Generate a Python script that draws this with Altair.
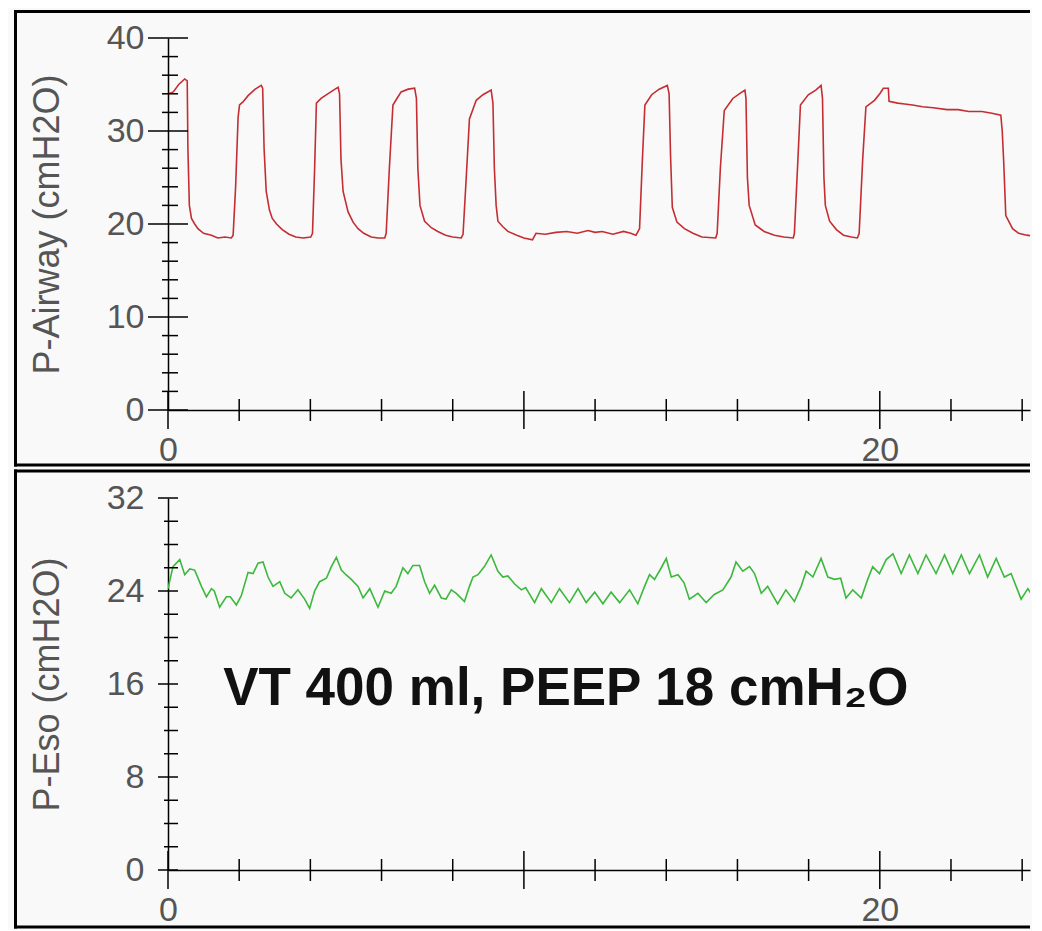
import altair as alt
import pandas as pd

# ---------------- data ----------------
t_air = [0.00, 0.15, 0.30, 0.47, 0.54, 0.56, 0.60, 0.66, 0.75, 0.84, 1.00, 1.22, 1.40, 1.60, 1.78,
         1.83, 1.90, 1.97, 2.01, 2.10, 2.25, 2.45, 2.62, 2.66, 2.70, 2.76, 2.85, 2.93, 3.05, 3.21,
         3.40, 3.59, 3.80, 4.01, 4.06, 4.12, 4.17, 4.30, 4.49, 4.65, 4.78, 4.82, 4.86, 4.92, 5.06,
         5.20, 5.34, 5.50, 5.71, 5.90, 6.09, 6.13, 6.22, 6.32, 6.45, 6.55, 6.75, 6.93, 6.98, 7.02,
         7.08, 7.21, 7.40, 7.58, 7.80, 8.00, 8.24, 8.29, 8.38, 8.47, 8.66, 8.85, 9.08, 9.13, 9.17,
         9.22, 9.27, 9.41, 9.55, 9.80, 10.00, 10.24, 10.34, 10.60, 10.90, 11.20, 11.50, 11.80, 12.00,
         12.20, 12.50, 12.80, 13.00, 13.15, 13.25, 13.33, 13.40, 13.59, 13.80, 14.03, 14.08, 14.12,
         14.17, 14.30, 14.51, 14.75, 15.00, 15.39, 15.43, 15.52, 15.63, 15.87, 16.05, 16.21, 16.24,
         16.28, 16.33, 16.50, 16.75, 17.04, 17.30, 17.57, 17.60, 17.70, 17.77, 17.99, 18.20, 18.35,
         18.39, 18.43, 18.47, 18.59, 18.78, 18.98, 19.20, 19.37, 19.42, 19.52, 19.61, 19.85, 20.00,
         20.10, 20.24, 20.26, 20.50, 20.70, 20.92, 21.20, 21.50, 21.89, 22.20, 22.50, 22.87, 23.15,
         23.40, 23.44, 23.48, 23.54, 23.73, 23.90, 24.13, 24.49]
p_air = [34.0, 34.2, 35.0, 35.6, 35.4, 28.0, 22.0, 20.6, 20.0, 19.5, 19.0, 18.8, 18.5, 18.6, 18.5,
         18.8, 24.0, 31.5, 32.8, 33.1, 33.8, 34.5, 34.9, 34.6, 28.1, 23.5, 21.5, 20.6, 20.0, 19.4,
         18.9, 18.6, 18.5, 18.6, 19.0, 26.0, 33.0, 33.5, 34.0, 34.4, 34.7, 34.0, 27.0, 23.5, 21.3,
         20.2, 19.5, 19.0, 18.6, 18.5, 18.5, 19.0, 26.0, 32.8, 33.6, 34.2, 34.5, 34.6, 33.5, 26.0,
         22.0, 20.3, 19.6, 19.2, 18.8, 18.6, 18.5, 18.9, 25.0, 31.3, 33.3, 33.9, 34.4, 33.0, 26.0,
         22.0, 20.3, 19.7, 19.2, 18.8, 18.5, 18.3, 19.0, 18.9, 19.1, 19.2, 19.0, 19.3, 19.1,
         19.2, 18.9, 19.2, 19.0, 18.8, 19.5, 27.0, 32.8, 33.9, 34.5, 34.9, 34.0, 27.4,
         21.8, 20.2, 19.5, 19.0, 18.6, 18.5, 19.0, 26.0, 32.2, 33.5, 34.0, 34.4, 33.5,
         25.0, 22.0, 19.9, 19.2, 18.8, 18.6, 18.5, 19.0, 27.0, 32.8, 33.9, 34.4, 34.9,
         33.5, 25.0, 22.0, 20.3, 19.4, 18.8, 18.6, 18.5, 19.0, 27.0, 32.6, 33.3, 34.0,
         34.6, 34.6, 33.2, 33.0, 32.9, 32.8, 32.6, 32.5, 32.3, 32.3, 32.1, 32.1, 31.9,
         31.7, 30.0, 26.8, 20.9, 19.5, 19.0, 18.8, 18.6]

t_eso = [0.00, 0.14, 0.33, 0.47, 0.61, 0.75, 0.94, 1.08, 1.22, 1.30, 1.45, 1.64, 1.75, 1.92, 2.06,
         2.25, 2.39, 2.53, 2.67, 2.81, 2.95, 3.14, 3.28, 3.46, 3.65, 3.84, 3.98, 4.12, 4.26, 4.45,
         4.59, 4.73, 4.87, 5.00, 5.15, 5.34, 5.48, 5.67, 5.90, 6.09, 6.27, 6.41, 6.60, 6.74, 6.88,
         7.07, 7.21, 7.35, 7.49, 7.68, 7.81, 7.96, 8.10, 8.33, 8.47, 8.57, 8.71, 8.89, 9.08, 9.27,
         9.41, 9.55, 9.74, 9.93, 10.05, 10.30, 10.49, 10.77, 11.00, 11.28, 11.52, 11.75, 11.99,
         12.22, 12.45, 12.69, 12.97, 13.20, 13.39, 13.53, 13.67, 13.86, 14.00, 14.14, 14.33, 14.50,
         14.65, 14.89, 15.12, 15.35, 15.59, 15.82, 15.96, 16.15, 16.34, 16.48, 16.67, 16.85, 17.13,
         17.36, 17.60, 17.79, 17.93, 18.12, 18.35, 18.54, 18.73, 18.90, 19.05, 19.24, 19.48, 19.66,
         19.80, 19.99, 20.18, 20.37, 20.60, 20.83, 21.07, 21.30, 21.58, 21.82, 22.05, 22.29, 22.52,
         22.80, 23.03, 23.27, 23.50, 23.69, 23.97, 24.16, 24.49]
p_eso = [24.2, 26.1, 26.7, 25.4, 25.9, 25.8, 24.4, 23.5, 24.2, 24.0, 22.6, 23.5, 23.5, 22.8, 23.6,
         25.6, 25.5, 26.4, 26.5, 25.2, 24.4, 24.8, 23.8, 23.4, 24.1, 23.3, 22.5, 24.0, 24.8, 25.1,
         26.1, 26.9, 25.8, 25.4, 25.0, 24.4, 23.4, 24.2, 22.6, 24.0, 23.8, 24.4, 26.0, 25.5, 26.2,
         26.2, 24.8, 23.8, 24.5, 23.4, 23.3, 24.1, 23.8, 23.1, 24.4, 25.2, 25.4, 26.1, 27.1, 25.7,
         25.2, 25.3, 24.6, 24.1, 24.3, 23.0, 24.2, 23.0, 24.2, 23.0, 24.2, 23.0, 23.9,
         22.9, 23.9, 23.0, 24.1, 22.9, 24.4, 25.4, 25.0, 26.0, 26.8, 25.2, 25.4, 24.7,
         23.3, 23.8, 23.0, 23.7, 24.1, 25.2, 26.5, 25.7, 26.1, 25.5, 23.8, 24.4, 22.9,
         24.1, 23.1, 24.4, 25.7, 25.2, 26.8, 25.2, 25.0, 25.1, 23.4, 24.1, 23.4, 25.0,
         26.1, 25.5, 26.7, 27.2, 25.5, 27.1, 25.5, 27.1, 25.5, 27.1, 25.5, 27.1, 25.5,
         27.1, 25.2, 26.8, 25.2, 25.5, 23.3, 24.2, 22.6]

x_label_values = [0, 20]
x_major_ticks = [0, 10, 20]
x_minor_ticks = [2, 4, 6, 8, 12, 14, 16, 18, 22, 24]

air_y_major = [0, 10, 20, 30, 40]
air_y_minor = [2, 4, 6, 8, 12, 14, 16, 18, 22, 24, 26, 28, 32, 34, 36, 38]
eso_y_major = [0, 8, 16, 24, 32]
eso_y_minor = [2, 4, 6, 10, 12, 14, 18, 20, 22, 26, 28, 30]

note_t = [1.55]
note_p = [14.2]
note_text = ["VT 400 ml, PEEP 18 cmH\u2082O"]

# ---------------- chart ----------------
PX_PER_S = 35.59
W = 862
H = 372
FONT = "Liberation Sans"
GREY = "#555555"
X_SCALE = alt.Scale(domain=[0, W / PX_PER_S], nice=False, zero=False)
X_AXIS = alt.Axis(values=x_label_values, ticks=False, tickSize=0, grid=False,
                  domainColor="black", domainWidth=1.5, labelFlush=False,
                  labelFont=FONT, labelFontSize=34, labelColor=GREY,
                  labelPadding=23, title=None)


def panel(t, p, color, ymax, ymaj, ymin, title, major_len, minor_len, minor_off,
          frame_top, frame_bottom, note=None):
    yscale = alt.Scale(domain=[0, ymax], nice=False, zero=False)
    yaxis = alt.Axis(values=ymaj, ticks=False, tickSize=0, grid=False,
                     domainColor="black", domainWidth=1.5, labelFlush=False,
                     labelFont=FONT, labelFontSize=34, labelColor=GREY,
                     labelPadding=24, title=title, titleFont=FONT,
                     titleFontSize=36, titleFontWeight="normal",
                     titleColor=GREY, titlePadding=40)
    df = pd.DataFrame({"t": t, "p": p})
    line = alt.Chart(df).mark_line(color=color, strokeWidth=1.6, clip=True).encode(
        x=alt.X("t:Q", scale=X_SCALE, axis=X_AXIS),
        y=alt.Y("p:Q", scale=yscale, axis=yaxis),
    )
    y_major = alt.Chart(pd.DataFrame({"t": 0, "p": ymaj})).mark_tick(
        orient="horizontal", size=major_len, thickness=1.5, color="black", opacity=1
    ).encode(x=alt.X("t:Q", scale=X_SCALE, axis=X_AXIS),
             y=alt.Y("p:Q", scale=yscale, axis=yaxis))
    y_minor = alt.Chart(pd.DataFrame({"t": 0, "p": ymin})).mark_tick(
        orient="horizontal", size=minor_len, thickness=1.5, color="black", opacity=1,
        xOffset=minor_off
    ).encode(x=alt.X("t:Q", scale=X_SCALE, axis=X_AXIS),
             y=alt.Y("p:Q", scale=yscale, axis=yaxis))
    x_major = alt.Chart(pd.DataFrame({"t": x_major_ticks, "p": 0})).mark_tick(
        orient="vertical", size=38, thickness=1.5, color="black", opacity=1
    ).encode(x=alt.X("t:Q", scale=X_SCALE, axis=X_AXIS),
             y=alt.Y("p:Q", scale=yscale, axis=yaxis))
    x_minor = alt.Chart(pd.DataFrame({"t": x_minor_ticks, "p": 0})).mark_tick(
        orient="vertical", size=22, thickness=1.5, color="black", opacity=1
    ).encode(x=alt.X("t:Q", scale=X_SCALE, axis=X_AXIS),
             y=alt.Y("p:Q", scale=yscale, axis=yaxis))

    one = pd.DataFrame({"k": [0]})
    left = -152.5
    sw = 3
    frame_v = alt.Chart(one).mark_rule(color="black", strokeWidth=sw, strokeCap="butt").encode(
        x=alt.value(left), y=alt.value(frame_top - sw / 2), y2=alt.value(frame_bottom + sw / 2))
    frame_t = alt.Chart(one).mark_rule(color="black", strokeWidth=sw, strokeCap="butt").encode(
        x=alt.value(left - sw / 2), x2=alt.value(W), y=alt.value(frame_top))
    frame_b = alt.Chart(one).mark_rule(color="black", strokeWidth=sw, strokeCap="butt").encode(
        x=alt.value(left - sw / 2), x2=alt.value(W), y=alt.value(frame_bottom))

    layers = [line, y_major, y_minor, x_major, x_minor, frame_v, frame_t, frame_b]
    if note is not None:
        layers.append(
            alt.Chart(note).mark_text(
                font=FONT, fontSize=53, fontWeight="bold", align="left",
                baseline="alphabetic", color="#111111"
            ).encode(x=alt.X("t:Q", scale=X_SCALE, axis=X_AXIS),
                     y=alt.Y("p:Q", scale=yscale, axis=yaxis),
                     text="txt:N")
        )
    return alt.layer(*layers).properties(width=W, height=H)


note_df = pd.DataFrame({"t": note_t, "p": note_p, "txt": note_text})

top = panel(t_air, p_air, "#c42e32", 40, air_y_major, air_y_minor, "P-Airway (cmH2O)",
            40, 16, 2, -26.5, H + 55)
bottom = panel(t_eso, p_eso, "#3cb83c", 32, eso_y_major, eso_y_minor, "P-Eso (cmH2O)",
               20, 14, 3, -27, H + 57, note=note_df)

chart = alt.vconcat(top, bottom, spacing=0).configure(
    padding={"left": 4, "top": 0, "right": 0, "bottom": 0},
    background="#f9f9f9",
).configure_view(stroke=None)

chart.save("out.html", embed_options={"renderer": "svg", "actions": False})
